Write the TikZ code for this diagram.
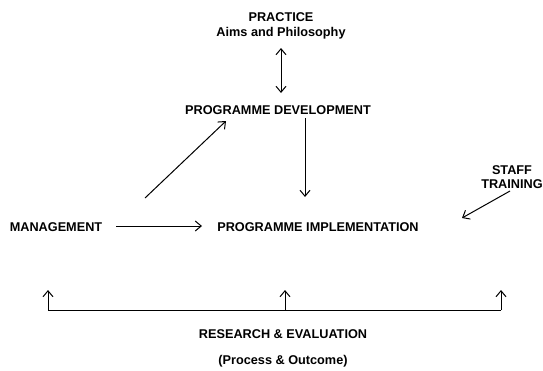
\documentclass[tikz,border=0pt]{standalone}
\usepackage{fontspec}
\setmainfont{Liberation Sans}
\usetikzlibrary{arrows.meta}
\begin{document}
\begin{tikzpicture}[x=1pt,y=-1pt,
  lbl/.style={font=\bfseries\fontsize{12.7}{14}\selectfont, inner sep=0pt, align=center},
  conn/.style={line width=1pt, -{Straight Barb[length=6pt,width=10pt,line width=1pt]}},
  dconn/.style={line width=1pt, {Straight Barb[length=6pt,width=10pt,line width=1pt]}-{Straight Barb[length=6pt,width=10pt,line width=1pt]}}]
\useasboundingbox (0,0) rectangle (543,370);
\node[lbl] (prac) at (281,17) {PRACTICE};
\node[lbl] (aims) at (281,33) {Aims and Philosophy};
\node[lbl] (dev) at (278,110) {PROGRAMME DEVELOPMENT};
\node[lbl] (mgmt) at (56,227) {MANAGEMENT};
\node[lbl] (impl) at (318,227) {PROGRAMME IMPLEMENTATION};
\node[lbl] (staff) at (512,170) {STAFF};
\node[lbl] (train) at (512,184) {TRAINING};
\node[lbl] (res) at (283,334) {RESEARCH \& EVALUATION};
\node[lbl] (proc) at (283,361) {(Process \& Outcome)};
\coordinate (pa) at (281,48);
\coordinate (pb) at (281,93);
\coordinate (da) at (305,118);
\coordinate (db) at (305,197);
\coordinate (ma) at (145,198);
\coordinate (mb) at (226,121);
\coordinate (m1) at (116,226);
\coordinate (m2) at (202,226);
\coordinate (s1) at (510,191);
\coordinate (s2) at (462,218);
\coordinate (bl) at (48,310);
\coordinate (bm) at (285,310);
\coordinate (br) at (501,310);
\coordinate (tl) at (48,290);
\coordinate (tm) at (285,290);
\coordinate (tr) at (501,290);
\draw[dconn] (pa) -- (pb);
\draw[conn] (da) -- (db);
\draw[conn] (ma) -- (mb);
\draw[conn] (m1) -- (m2);
\draw[conn] (s1) -- (s2);
\draw[line width=1pt] (bl) -- (br);
\draw[conn] (bl) -- (tl);
\draw[conn] (bm) -- (tm);
\draw[conn] (br) -- (tr);
\end{tikzpicture}
\end{document}
